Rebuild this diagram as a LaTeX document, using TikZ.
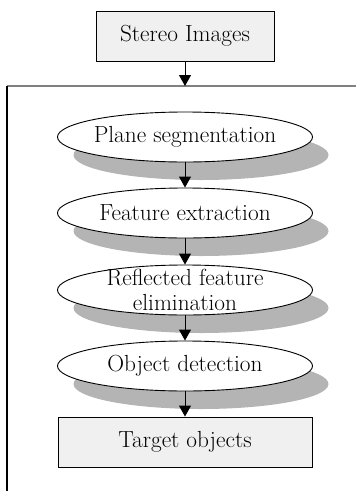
\documentclass[tikz,border=0pt]{standalone}
\usetikzlibrary{arrows.meta,shadows,shapes.geometric}
\definecolor{boxfill}{HTML}{F0F0F0}
\definecolor{shade}{HTML}{B4B4B4}
\definecolor{framecol}{HTML}{808080}
\begin{document}
\begin{tikzpicture}[x=1pt,y=-1pt,
  every node/.style={font=\fontsize{23.3}{25}\selectfont},
  procbox/.style={draw, line width=0.9pt, fill=boxfill, minimum height=50pt, inner sep=0pt},
  proc/.style={draw, line width=0.9pt, ellipse, fill=white, minimum width=255pt, minimum height=50pt, inner sep=0pt,
    drop shadow={shadow xshift=16pt, shadow yshift=-18pt, fill=shade, opacity=1}},
  steptext/.style={align=center, inner sep=0pt},
  flow/.style={line width=0.9pt, -{Triangle[length=11pt,width=12pt]}}]
\useasboundingbox (0,0) rectangle (356,491);

% outer frame (open on the right and at the bottom)
\draw[framecol, line width=1.8pt] (7,86) -- (356,86);
\draw[line width=1.1pt] (7,86) -- (7,491);
\coordinate (ftop) at (185,86);

% input and output boxes
\node[procbox, minimum width=178pt] (stereo) at (185,36) {Stereo Images};
\node[procbox, minimum width=254pt] (target) at (185,442) {Target objects};

% processing steps
\node[proc] (e1) at (185,137) {};
\node[proc] (e2) at (185,213) {};
\node[proc] (e3) at (185,290) {};
\node[proc] (e4) at (185,366) {};
\node[steptext] (t1) at (e1) {Plane segmentation};
\node[steptext] (t2) at (e2) {Feature extraction};
\node[steptext] (t3) at (e3) {Reflected feature\\elimination};
\node[steptext] (t4) at (e4) {Object detection};

% connectors
\draw[flow] (stereo) -- (ftop);
\draw[flow] (e1.south) -- (e2.north);
\draw[flow] (e2.south) -- (e3.north);
\draw[flow] (e3.south) -- (e4.north);
\draw[flow] (e4.south) -- (target.north);
\end{tikzpicture}
\end{document}
